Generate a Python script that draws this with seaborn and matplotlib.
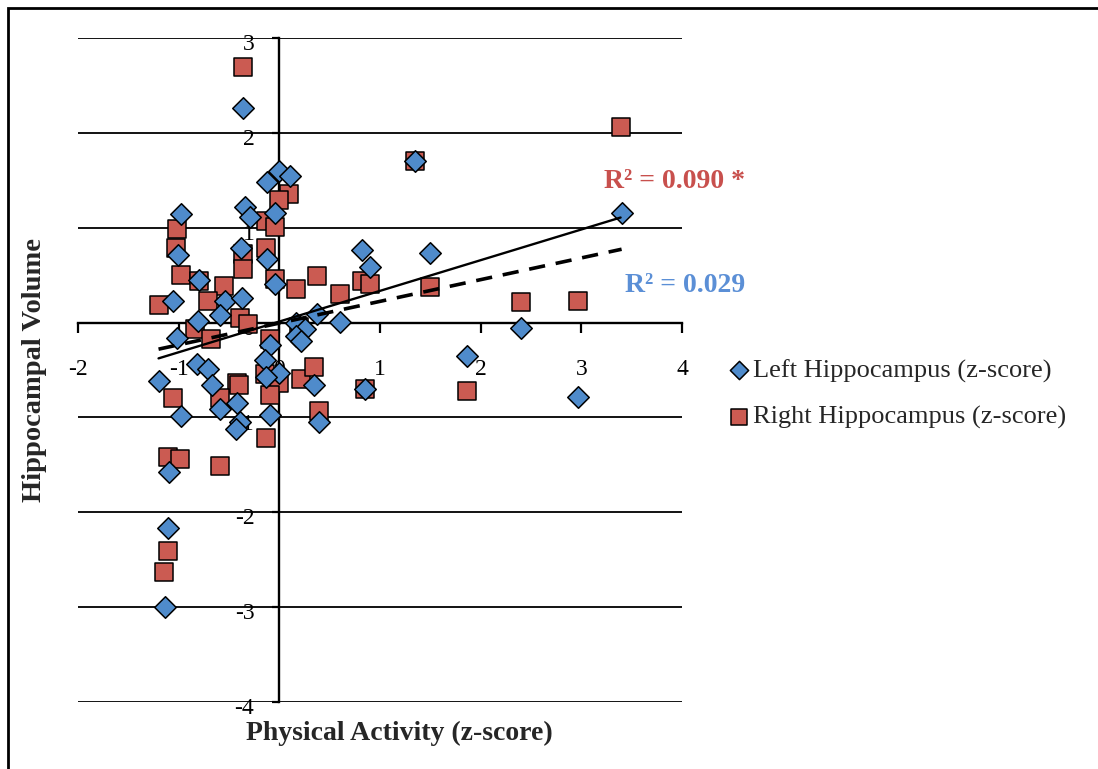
import numpy as np
import pandas as pd
import seaborn as sns
import matplotlib.pyplot as plt
from matplotlib.transforms import ScaledTranslation
from matplotlib.patches import Rectangle

# Left hippocampus (z-score) vs physical activity (z-score)
left_x = [-0.36, 0.00, 0.11, -0.12, -0.34, -0.29, -0.04, -0.98, -1.01, -0.38,
          -0.12, -0.80, -0.04, -1.06, -0.54, -0.37, -0.59, -0.81, -1.02, -0.09,
          -0.14, 0.17, 0.25, 0.17, 0.22, 0.37, 0.60, 0.00, -0.13, -0.09,
          0.34, 0.39, 0.85, -0.82, -0.71, -1.20, -0.67, -0.98, -0.42, -0.59,
          -0.39, -0.43, -1.10, -1.11, -1.14, 1.35, 3.40, 0.82, 1.50, 0.90,
          2.40, 1.86, 2.97]
left_y = [2.26, 1.60, 1.54, 1.48, 1.22, 1.11, 1.15, 1.14, 0.71, 0.79,
          0.67, 0.45, 0.41, 0.23, 0.23, 0.26, 0.08, 0.02, -0.16, -0.24,
          -0.39, 0.00, -0.07, -0.14, -0.19, 0.09, 0.01, -0.53, -0.57, -0.97,
          -0.66, -1.05, -0.70, -0.44, -0.49, -0.62, -0.66, -0.98, -0.85, -0.91,
          -1.05, -1.12, -1.58, -2.17, -3.00, 1.70, 1.15, 0.77, 0.73, 0.59,
          -0.06, -0.35, -0.78]

# Right hippocampus (z-score) vs physical activity (z-score)
right_x = [-0.36, 0.10, 0.00, -0.13, -0.04, -1.02, -1.03, -0.36, -0.13, -0.36,
           -0.98, -0.80, -0.55, -0.04, 0.17, 0.37, 0.60, -1.20, -0.71, -0.39,
           -0.31, -0.84, -0.68, -0.09, 0.20, -0.14, 0.00, -0.09, -0.13, 0.22,
           0.34, 0.39, 0.85, -1.06, -0.42, -0.40, -0.59, -1.11, -0.99, -0.59,
           -1.11, -1.15, 1.35, 3.39, 0.82, 0.90, 1.50, 2.40, 2.97, 1.86]
right_y = [2.69, 1.36, 1.29, 1.07, 1.01, 0.99, 0.79, 0.72, 0.79, 0.57,
           0.50, 0.44, 0.39, 0.46, 0.35, 0.49, 0.30, 0.18, 0.23, 0.05,
           -0.02, -0.07, -0.17, -0.17, -0.05, -0.54, -0.64, -0.76, -1.22, -0.60,
           -0.47, -0.93, -0.70, -0.80, -0.64, -0.66, -0.79, -1.42, -1.44, -1.51,
           -2.41, -2.63, 1.70, 2.06, 0.44, 0.41, 0.37, 0.22, 0.23, -0.72]

x_ticks = [-2, -1, 0, 1, 2, 3, 4]
y_ticks = [-4, -3, -2, -1, 0, 1, 2, 3]

blue = '#4F8BCB'
red = '#CB5B52'

sns.set_theme(style='white')
plt.rcParams['font.family'] = ['Liberation Serif', 'DejaVu Serif']

fig = plt.figure(figsize=(10.98, 7.69), dpi=100)
ax = fig.add_axes([78 / 1098, 1 - 702 / 769, 604 / 1098, 664 / 769])

# squares first so the diamonds sit on top
sns.scatterplot(x=right_x, y=right_y, marker='s', s=165, color=red,
                edgecolor='black', linewidth=1.1, ax=ax, zorder=3,
                label='Right Hippocampus (z-score)')
sns.scatterplot(x=left_x, y=left_y, marker='D', s=120, color=blue,
                edgecolor='black', linewidth=1.1, ax=ax, zorder=4,
                label='Left Hippocampus (z-score)')

# linear trendlines
sns.regplot(x=right_x, y=right_y, scatter=False, ci=None, truncate=True,
            color='black', line_kws=dict(lw=1.7, zorder=5), ax=ax)
sns.regplot(x=left_x, y=left_y, scatter=False, ci=None, truncate=True,
            color='black', line_kws=dict(lw=2.6, ls=(0, (4.5, 3)), zorder=5), ax=ax)

ax.set_xlim(-2, 4)
ax.set_ylim(-4, 3)
ax.set_xticks(x_ticks)
ax.set_yticks(y_ticks)
ax.set_xticklabels([str(v) for v in x_ticks])
ax.set_yticklabels([str(v) for v in y_ticks])

for side in ['top', 'right']:
    ax.spines[side].set_visible(False)
ax.spines['left'].set_position('zero')
ax.spines['bottom'].set_position('zero')
for side in ['left', 'bottom']:
    ax.spines[side].set_color('black')
    ax.spines[side].set_linewidth(1.7)
    ax.spines[side].set_zorder(2)

ax.grid(axis='y', color='black', linewidth=1.3, zorder=1)
ax.grid(axis='x', visible=False)
ax.set_axisbelow(True)

ax.tick_params(axis='x', direction='out', length=7, width=1.6, pad=19,
               labelsize=17, colors='black', bottom=True)
ax.tick_params(axis='y', direction='out', length=5, width=1.6, pad=13,
               labelsize=17, colors='black', left=True)
shift = ScaledTranslation(0, -3 / 72, fig.dpi_scale_trans)
for lbl in ax.get_yticklabels():
    lbl.set_transform(lbl.get_transform() + shift)

ax.set_xlabel('Physical Activity (z-score)', fontsize=20, fontweight='bold')
ax.set_ylabel('Hippocampal Volume', fontsize=20.5, fontweight='bold')
ax.xaxis.set_label_coords(0.5315, -0.029)
ax.yaxis.set_label_coords(-0.051, 0.5)

fig.text(675 / 1098, 1 - 182 / 769, 'R² = 0.090 *', color='#C8504D',
         fontsize=20, fontweight='bold', ha='center', va='center')
fig.text(685 / 1098, 1 - 285 / 769, 'R² = 0.029', color='#5B8FD6',
         fontsize=20, fontweight='bold', ha='center', va='center')

handles, labels = ax.get_legend_handles_labels()
ax.legend(handles[::-1], labels[::-1], loc='center left',
          bbox_to_anchor=(728 / 1098, 1 - 394 / 769), bbox_transform=fig.transFigure,
          frameon=False, fontsize=19, handlelength=0.8, handletextpad=0.15,
          borderpad=0, borderaxespad=0, labelspacing=0.85, markerscale=0.85)

fig.patches.append(Rectangle((8 / 1098, -0.1), 1.2, 1.1 - 8 / 769,
                             transform=fig.transFigure, fill=False,
                             edgecolor='black', linewidth=2))

fig.savefig('out.png', dpi=100)
